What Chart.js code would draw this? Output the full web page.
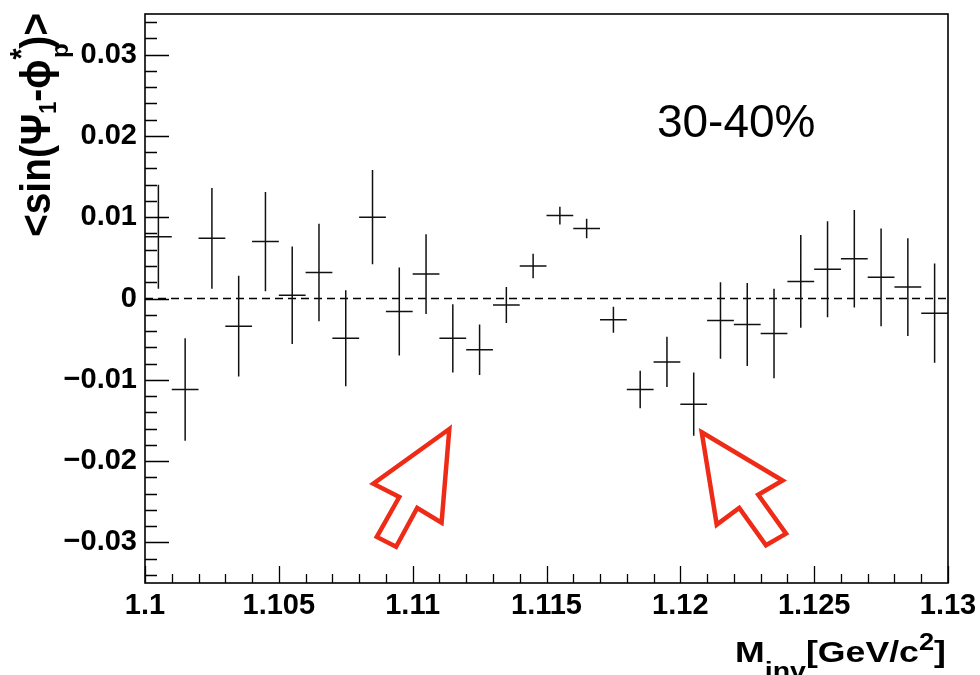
<!DOCTYPE html>
<html>
<head>
<meta charset="utf-8">
<title>sin(Psi1 - phi*) vs Minv, 30-40%</title>
<script src="https://cdn.jsdelivr.net/npm/chart.js@4.4.1/dist/chart.umd.min.js"></script>
<style>
  html, body { margin: 0; padding: 0; background: #fff; }
  #chart { display: block; }
</style>
</head>
<body>
<canvas id="chart" width="980" height="675"></canvas>
<script>
// histogram bin centres, M_inv [GeV/c^2]
const massBins = [1.1005, 1.1015, 1.1025, 1.1035, 1.1045, 1.1055, 1.1065, 1.1075, 1.1085, 1.1095,
                  1.1105, 1.1115, 1.1125, 1.1135, 1.1145, 1.1155, 1.1165, 1.1175, 1.1185, 1.1195,
                  1.1205, 1.1215, 1.1225, 1.1235, 1.1245, 1.1255, 1.1265, 1.1275, 1.1285, 1.1295];
// <sin(Psi1 - phi*)>p per bin
const sinValues = [0.0076, -0.0112, 0.0074, -0.0034, 0.0070, 0.0004, 0.0032, -0.0049, 0.0100, -0.0016,
                   0.0030, -0.0049, -0.0063, -0.0008, 0.0040, 0.0102, 0.0086, -0.0026, -0.0112, -0.0078,
                   -0.0130, -0.0027, -0.0032, -0.0043, 0.0021, 0.0036, 0.0049, 0.0026, 0.0014, -0.0018];
const sinErrors = [0.0064, 0.0063, 0.0062, 0.0062, 0.0061, 0.0060, 0.0060, 0.0059, 0.0058, 0.0054,
                   0.0049, 0.0042, 0.0031, 0.0022, 0.0015, 0.0011, 0.0012, 0.0016, 0.0023, 0.0031,
                   0.0039, 0.0047, 0.0051, 0.0055, 0.0057, 0.0059, 0.0060, 0.0060, 0.0060, 0.0061];
const binHalfWidth = 0.0005;

const xMajorTicks = [1.1, 1.105, 1.11, 1.115, 1.12, 1.125, 1.13];
const yMajorTicks = [-0.03, -0.02, -0.01, 0, 0.01, 0.02, 0.03];
const xMinorStep = 0.001;
const yMinorStep = 0.002;

const centralityLabel = '30-40%';
const centralityPos = [1.1192, 0.0199];

// red hollow arrows, outline in data coordinates
const arrowLeft = [[1.11137, -0.01605], [1.10853, -0.02279], [1.10950, -0.02442], [1.10866, -0.02933],
                   [1.10938, -0.03055], [1.11017, -0.02577], [1.11108, -0.02757]];
const arrowRight = [[1.12080, -0.01646], [1.12382, -0.02239], [1.12291, -0.02414], [1.12395, -0.02892],
                    [1.12320, -0.03036], [1.12220, -0.02577], [1.12136, -0.02782]];

const FONT = '"Liberation Sans", Arial, Helvetica, sans-serif';

function minorTicks(min, max, step) {
    const out = [];
    for (let v = min; v <= max + step / 2; v += step) out.push(+v.toFixed(4));
    return out;
}

function formatY(v) {
    if (Math.abs(v) < 1e-9) return '0';
    const s = Math.abs(v).toFixed(2);
    return v < 0 ? '\u2212' + s : s;
}

// draw a run of text pieces (sub/superscripts via dy), returns total advance
function drawPieces(ctx, pieces, draw) {
    let cx = 0;
    pieces.forEach(p => {
        ctx.font = 'bold ' + p.size + 'px ' + FONT;
        if (draw) ctx.fillText(p.text, cx, p.dy || 0);
        cx += ctx.measureText(p.text).width;
    });
    return cx;
}

/**
 * Error bars: vertical = stat. error, horizontal = bin width
 */
const errorBars = {
    id: 'errorBars',
    afterDatasetsDraw(chart) {
        const { ctx, scales: { x, y } } = chart;
        ctx.save();
        ctx.strokeStyle = '#111';
        ctx.lineWidth = 1.5;
        ctx.beginPath();
        massBins.forEach((m, i) => {
            const px = x.getPixelForValue(m);
            const py = y.getPixelForValue(sinValues[i]);
            ctx.moveTo(x.getPixelForValue(m - binHalfWidth), py);
            ctx.lineTo(x.getPixelForValue(m + binHalfWidth), py);
            ctx.moveTo(px, y.getPixelForValue(sinValues[i] + sinErrors[i]));
            ctx.lineTo(px, y.getPixelForValue(sinValues[i] - sinErrors[i]));
        });
        ctx.stroke();
        ctx.restore();
    }
};

/**
 * ROOT style frame with inward ticks on left and bottom
 */
const frame = {
    id: 'frame',
    afterDraw(chart) {
        const { ctx, chartArea: a, scales: { x, y } } = chart;
        ctx.save();
        ctx.strokeStyle = '#000';
        ctx.lineWidth = 1.6;
        ctx.strokeRect(a.left, a.top, a.right - a.left, a.bottom - a.top);

        ctx.lineWidth = 1.3;
        ctx.beginPath();
        minorTicks(-0.034, 0.034, yMinorStep).forEach(v => {
            const major = yMajorTicks.some(t => Math.abs(t - v) < 1e-6);
            const py = Math.round(y.getPixelForValue(v)) + 0.5;
            ctx.moveTo(a.left, py);
            ctx.lineTo(a.left + (major ? 24 : 12), py);
        });
        minorTicks(1.1, 1.13, xMinorStep).forEach(v => {
            const major = xMajorTicks.some(t => Math.abs(t - v) < 1e-6);
            const px = Math.round(x.getPixelForValue(v)) + 0.5;
            ctx.moveTo(px, a.bottom);
            ctx.lineTo(px, a.bottom - (major ? 17 : 9));
        });
        ctx.stroke();
        ctx.restore();
    }
};

/**
 * Arrows, centrality label and axis titles
 */
const decorations = {
    id: 'decorations',
    afterDraw(chart) {
        const { ctx, scales: { x, y } } = chart;
        ctx.save();

        // arrows
        ctx.strokeStyle = '#ee2b17';
        ctx.lineWidth = 4.5;
        ctx.lineJoin = 'miter';
        [arrowLeft, arrowRight].forEach(pts => {
            ctx.beginPath();
            pts.forEach(([mx, my], i) => {
                const px = x.getPixelForValue(mx), py = y.getPixelForValue(my);
                if (i === 0) ctx.moveTo(px, py); else ctx.lineTo(px, py);
            });
            ctx.closePath();
            ctx.stroke();
        });

        // centrality
        ctx.fillStyle = '#000';
        ctx.textBaseline = 'alphabetic';
        ctx.textAlign = 'left';
        ctx.font = '46px ' + FONT;
        ctx.fillText(centralityLabel, x.getPixelForValue(centralityPos[0]) - 2, y.getPixelForValue(centralityPos[1]));

        // x title: M_inv[GeV/c^2]
        const xPieces = [
            { text: 'M', size: 30 },
            { text: 'inv', size: 24, dy: 17 },
            { text: '[GeV/c', size: 30 },
            { text: '2', size: 23, dy: -12 },
            { text: ']', size: 30 }
        ];
        let w = drawPieces(ctx, xPieces, false);
        ctx.save();
        ctx.translate(735, 662);
        ctx.scale(211 / w, 1);
        drawPieces(ctx, xPieces, true);
        ctx.restore();

        // y title: <sin(Psi_1 - phi^*)>_p, rotated
        const yPieces = [
            { text: '<sin(\u03A8', size: 36 },
            { text: '1', size: 20, dy: 5 },
            { text: '-\u03D5', size: 36 },
            { text: '*', size: 26, dy: -15 },
            { text: ')>', size: 36 }
        ];
        w = drawPieces(ctx, yPieces, false);
        ctx.save();
        ctx.translate(50, 237);
        ctx.rotate(-Math.PI / 2);
        ctx.save();
        ctx.scale(224 / w, 1.2);
        drawPieces(ctx, yPieces, true);
        ctx.restore();
        ctx.font = 'bold 24px ' + FONT;
        ctx.fillText('p', 179, 18);
        ctx.restore();

        ctx.restore();
    }
};

const points = massBins.map((m, i) => ({ x: m, y: sinValues[i] }));

new Chart(document.getElementById('chart'), {
    type: 'scatter',
    data: {
        datasets: [
            {
                type: 'line',
                data: [{ x: 1.1, y: 0 }, { x: 1.13, y: 0 }],
                borderColor: '#000',
                borderWidth: 1.3,
                borderDash: [8, 5],
                pointRadius: 0
            },
            {
                data: points,
                pointRadius: 0,
                pointHoverRadius: 0
            }
        ]
    },
    options: {
        responsive: false,
        animation: false,
        devicePixelRatio: 1,
        layout: { padding: { top: 14, right: 32, left: 0, bottom: 0 } },
        plugins: {
            legend: { display: false },
            tooltip: { enabled: false }
        },
        scales: {
            x: {
                type: 'linear',
                min: 1.1,
                max: 1.13,
                grid: { display: false, drawTicks: false },
                border: { display: false },
                afterBuildTicks: s => { s.ticks = xMajorTicks.map(v => ({ value: v })); },
                afterFit: s => { s.height = 92; s.paddingLeft = 0; s.paddingRight = 0; },
                ticks: {
                    padding: 6,
                    autoSkip: false,
                    maxRotation: 0,
                    color: '#000',
                    font: { family: FONT, size: 29, weight: 'bold' },
                    callback: v => String(+v.toFixed(4))
                }
            },
            y: {
                type: 'linear',
                min: -0.035,
                max: 0.035,
                grid: { display: false, drawTicks: false },
                border: { display: false },
                afterBuildTicks: s => { s.ticks = yMajorTicks.map(v => ({ value: v })); },
                afterFit: s => { s.width = 145; s.paddingTop = 0; s.paddingBottom = 0; },
                ticks: {
                    padding: 8,
                    color: '#000',
                    font: { family: FONT, size: 29, weight: 'bold' },
                    callback: v => formatY(v)
                }
            }
        }
    },
    plugins: [errorBars, frame, decorations]
});
</script>
</body>
</html>
